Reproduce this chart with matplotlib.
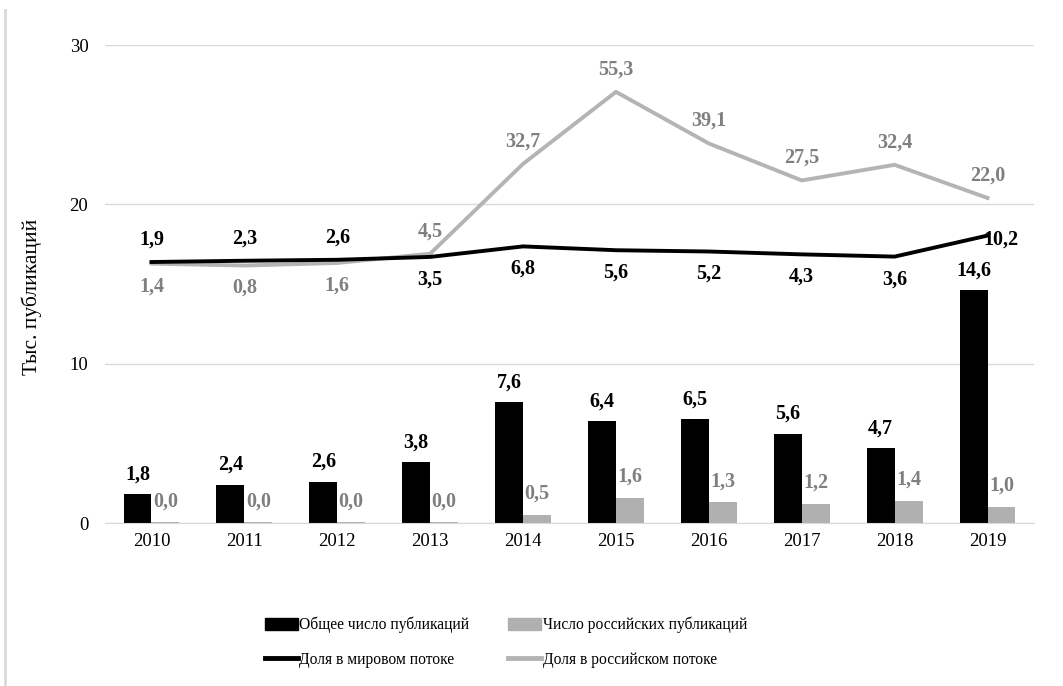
import matplotlib
matplotlib.use("Agg")
import matplotlib.pyplot as plt
import numpy as np
from matplotlib.lines import Line2D

plt.rcParams['font.family'] = ['Liberation Serif', 'DejaVu Serif']

years = ['2010', '2011', '2012', '2013', '2014', '2015', '2016', '2017', '2018', '2019']
total_pubs = [1.8, 2.4, 2.6, 3.8, 7.6, 6.4, 6.5, 5.6, 4.7, 14.6]
russian_pubs = [0.0, 0.0, 0.0, 0.0, 0.5, 1.6, 1.3, 1.2, 1.4, 1.0]
world_share = [1.9, 2.3, 2.6, 3.5, 6.8, 5.6, 5.2, 4.3, 3.6, 10.2]
russian_share = [1.4, 0.8, 1.6, 4.5, 32.7, 55.3, 39.1, 27.5, 32.4, 22.0]

BLACK = '#000000'
GRAY_BAR = '#b0b0b0'
GRAY_LINE = '#b4b4b4'
GRAY_TXT = '#7f7f7f'
LBL = 14.5

def fmt(v):
    return f"{v:.1f}".replace('.', ',')

fig = plt.figure(figsize=(10.63, 6.86), dpi=100)
ax = fig.add_axes([0.0988, 0.2376, 0.8739, 0.6968])
x = np.arange(len(years))
w = 0.3

ax.bar(x - w / 2, total_pubs, width=w, color=BLACK, zorder=2)
ax.bar(x + w / 2, [max(v, 0.05) for v in russian_pubs], width=w, color=GRAY_BAR, zorder=2)

ax.set_ylim(0, 30)
ax.set_xlim(-0.5, len(years) - 0.5)
ax.set_yticks([0, 10, 20, 30])
ax.yaxis.grid(True, color='#d9d9d9', linewidth=1)
ax.set_axisbelow(True)
for s in ['top', 'right', 'left']:
    ax.spines[s].set_visible(False)
ax.spines['bottom'].set_color('#d9d9d9')
ax.tick_params(axis='x', length=0, labelsize=13.5, pad=7)
ax.tick_params(axis='y', length=0, labelsize=13.5, pad=12)
ax.set_xticks(x)
ax.set_xticklabels(years)
ax.set_ylabel('Тыс. публикаций', fontsize=15.5)
ax.yaxis.set_label_coords(-0.068, 0.473)

for xi, v in zip(x, total_pubs):
    ax.annotate(fmt(v), (xi - w / 2, v), xytext=(0, 7), textcoords='offset points',
                ha='center', va='bottom', fontsize=LBL, fontweight='bold', color=BLACK)
for xi, v in zip(x, russian_pubs):
    ax.annotate(fmt(v), (xi + w / 2, v), xytext=(0, 8), textcoords='offset points',
                ha='center', va='bottom', fontsize=LBL, fontweight='bold', color=GRAY_TXT)

ax2 = ax.twinx()
ax2.set_ylim(-80, 70)
ax2.axis('off')
ax2.plot(x, russian_share, color=GRAY_LINE, linewidth=2.8, zorder=3, solid_joinstyle='round')
ax2.plot(x, world_share, color=BLACK, linewidth=2.8, zorder=4, solid_joinstyle='round')

for i, (xi, v) in enumerate(zip(x, world_share)):
    if i < 3:
        off, va, ha, dx = 9, 'bottom', 'center', 0
    elif i == len(x) - 1:
        off, va, ha, dx = -3, 'center', 'left', -3
    else:
        off, va, ha, dx = -9, 'top', 'center', 0
    ax2.annotate(fmt(v), (xi, v), xytext=(dx, off), textcoords='offset points',
                 ha=ha, va=va, fontsize=LBL, fontweight='bold', color=BLACK)

for i, (xi, v) in enumerate(zip(x, russian_share)):
    if i < 3:
        off, va = -9, 'top'
    else:
        off, va = 9, 'bottom'
    ax2.annotate(fmt(v), (xi, v), xytext=(0, off), textcoords='offset points',
                 ha='center', va=va, fontsize=LBL, fontweight='bold', color=GRAY_TXT)

handles = [
    plt.Rectangle((0, 0), 1, 1, color=BLACK),
    Line2D([0], [0], color=BLACK, linewidth=3.5),
    plt.Rectangle((0, 0), 1, 1, color=GRAY_BAR),
    Line2D([0], [0], color=GRAY_LINE, linewidth=3.5),
]
labels = ['Общее число публикаций', 'Доля в мировом потоке',
          'Число российских публикаций', 'Доля в российском потоке']
fig.legend(handles, labels, loc='center', bbox_to_anchor=(0.476, 0.064), ncol=2,
           frameon=False, fontsize=11.2, handlelength=2.1, handletextpad=0.1,
           columnspacing=2.5, labelspacing=1.2, handleheight=0.8)

fig.add_artist(Line2D([5 / 1063, 5 / 1063], [0, 1 - 10 / 686], color='#d9d9d9', linewidth=2,
                      transform=fig.transFigure))

fig.savefig('out.png', dpi=100)
